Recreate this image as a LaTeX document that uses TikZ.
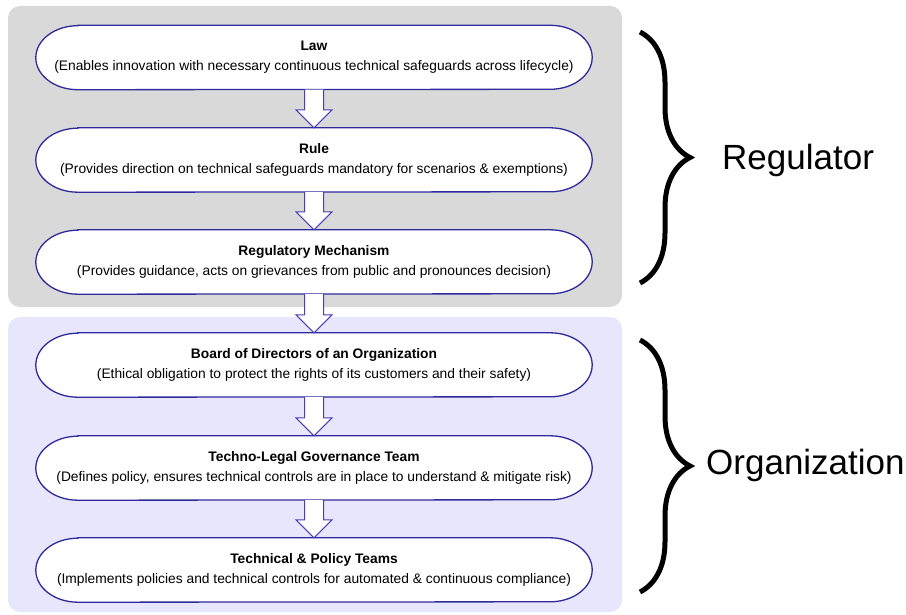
\documentclass[tikz,border=0pt]{standalone}
\usepackage{fontspec}
\setmainfont{Liberation Sans}
\usetikzlibrary{calc,backgrounds,decorations.pathreplacing}
\definecolor{panelgray}{HTML}{D9D9D9}
\definecolor{panelpurple}{HTML}{E8E6FC}
\definecolor{pillline}{HTML}{2E2A9C}
\definecolor{arrowline}{HTML}{4A3FB8}
\begin{document}
\begin{tikzpicture}[x=1pt,y=1pt,
  stepnode/.style={minimum width=556pt, minimum height=64pt, align=center, inner sep=0pt, font=\fontsize{13.8}{20}\selectfont},
  pillshape/.style={draw=pillline, line width=1.3pt, fill=white},
  blockarrow/.style={draw=arrowline, line width=1pt, fill=white, line join=miter},
  bracestyle/.style={decorate, decoration={brace, amplitude=50pt}, line width=5pt},
  bracelabel/.style={font=\fontsize{35}{40}\selectfont, anchor=west, inner sep=0pt}]
\useasboundingbox (0,0) rectangle (906,-615);

\node[stepnode] (law) at (314,-57.5) {\textbf{Law}\\(Enables innovation with necessary continuous technical safeguards across lifecycle)};
\node[stepnode] (rule) at (314,-160) {\textbf{Rule}\\(Provides direction on technical safeguards mandatory for scenarios \& exemptions)};
\node[stepnode] (reg) at (314,-262) {\textbf{Regulatory Mechanism}\\(Provides guidance, acts on grievances from public and pronounces decision)};
\node[stepnode] (board) at (314,-365) {\textbf{Board of Directors of an Organization}\\(Ethical obligation to protect the rights of its customers and their safety)};
\node[stepnode] (techno) at (314,-468) {\textbf{Techno-Legal Governance Team}\\(Defines policy, ensures technical controls are in place to understand \& mitigate risk)};
\node[stepnode] (tech) at (314,-570) {\textbf{Technical \& Policy Teams}\\(Implements policies and technical controls for automated \& continuous compliance)};

\begin{scope}[on background layer]
  \fill[panelgray, rounded corners=12pt] (8,-6) rectangle (622,-307);
  \fill[panelpurple, rounded corners=12pt] (8,-317) rectangle (622,-612);
  \foreach \n in {law,rule,reg,board,techno,tech}{
    \draw[pillshape] ($(\n.north west)+(42,0)$) -- ($(\n.north east)+(-42,0)$)
      arc[start angle=90, end angle=-90, x radius=42pt, y radius=32pt]
      -- ($(\n.south west)+(42,0)$)
      arc[start angle=270, end angle=90, x radius=42pt, y radius=32pt] -- cycle;
  }
\end{scope}

\foreach \a/\b in {law/rule,rule/reg,reg/board,board/techno,techno/tech}{
  \draw[blockarrow] ($(\a.south)+(-9.5,0)$) -- ($(\b.north)+(-9.5,18)$) -- ($(\b.north)+(-18,18)$)
    -- (\b.north) -- ($(\b.north)+(18,18)$) -- ($(\b.north)+(9.5,18)$) -- ($(\a.south)+(9.5,0)$);
}

\coordinate (rtop) at (640,-32);
\coordinate (rbot) at (640,-283);
\coordinate (otop) at (640,-340);
\coordinate (obot) at (640,-592);
\draw[bracestyle] (rtop) -- (rbot);
\draw[bracestyle] (otop) -- (obot);
\node[bracelabel] (regulator) at (722,-160) {Regulator};
\node[bracelabel] (organization) at (706,-465) {Organization};
\end{tikzpicture}
\end{document}
